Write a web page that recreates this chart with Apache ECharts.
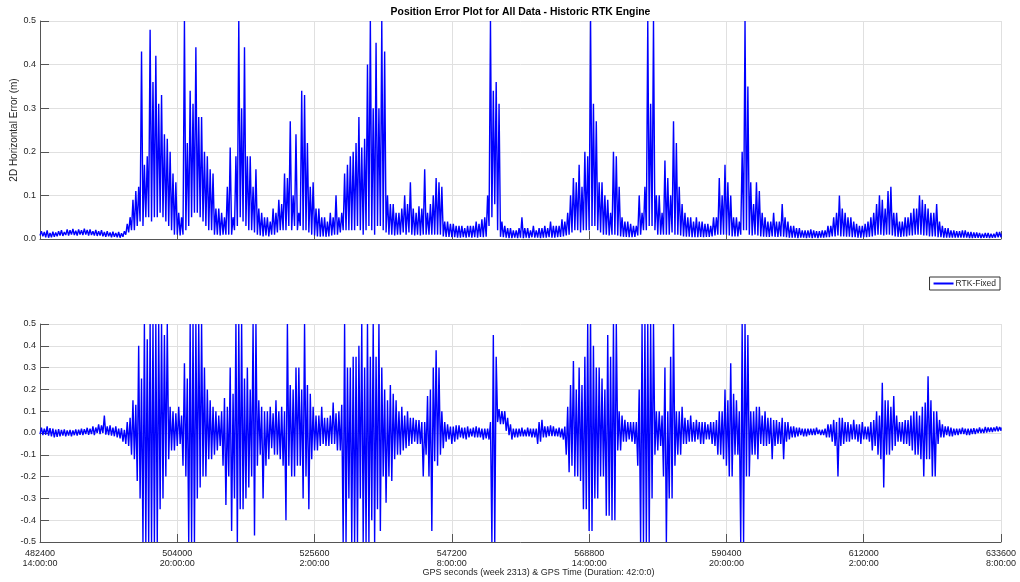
<!DOCTYPE html>
<html>
<head>
<meta charset="utf-8">
<title>Position Error Plot</title>
<script src="https://cdn.jsdelivr.net/npm/echarts@6/dist/echarts.min.js"></script>
<style>
  html, body { margin: 0; padding: 0; background: #fff; }
  #chart { width: 1020px; height: 582px; }
</style>
</head>
<body>
<div id="chart"></div>
<script>
// GPS seconds of week 2313, 42 h of data
const X_MIN = 482400;
const X_MAX = 633600;
const X_TICK = 21600;

// 2D horizontal error (m): low / high of each time bin
const horizLo = [
  0.008,0.006,0.004,0.003,0.004,0.005,0.006,0.008,0.007,0.009,
  0.008,0.01,0.009,0.008,0.01,0.009,0.01,0.008,0.009,0.008,
  0.007,0.008,0.006,0.005,0.006,0.004,0.005,0.004,0.003,0.005,
  0.01,0.015,0.02,0.02,0.03,0.04,0.03,0.05,0.05,0.04,
  0.05,0.05,0.06,0.05,0.04,0.03,0.02,0.01,0.01,0.008,
  0.01,0.02,0.03,0.05,0.06,0.06,0.05,0.04,0.03,0.02,
  0.02,0.01,0.01,0.008,0.01,0.01,0.01,0.01,0.02,0.03,
  0.05,0.04,0.03,0.02,0.02,0.015,0.01,0.008,0.006,0.008,
  0.006,0.01,0.01,0.015,0.02,0.02,0.02,0.03,0.02,0.03,
  0.02,0.03,0.02,0.02,0.015,0.01,0.008,0.006,0.005,0.006,
  0.005,0.006,0.008,0.01,0.01,0.015,0.02,0.02,0.02,0.02,
  0.02,0.03,0.02,0.01,0.02,0.03,0.02,0.01,0.03,0.03,
  0.02,0.015,0.01,0.01,0.008,0.01,0.01,0.015,0.01,0.015,
  0.01,0.008,0.01,0.008,0.01,0.01,0.01,0.01,0.01,0.01,
  0.01,0.006,0.005,0.005,0.004,0.004,0.003,0.003,0.004,0.003,
  0.004,0.003,0.004,0.003,0.005,0.004,0.005,0.03,0.05,0.08,
  0.02,0.005,0.004,0.003,0.002,0.002,0.003,0.002,0.003,0.002,
  0.003,0.002,0.004,0.003,0.003,0.002,0.003,0.003,0.004,0.003,
  0.003,0.004,0.005,0.006,0.008,0.01,0.015,0.02,0.02,0.015,
  0.02,0.02,0.02,0.03,0.03,0.02,0.015,0.01,0.01,0.008,
  0.01,0.01,0.008,0.006,0.005,0.005,0.004,0.004,0.005,0.008,
  0.01,0.02,0.02,0.03,0.03,0.02,0.01,0.01,0.01,0.01,
  0.01,0.015,0.01,0.01,0.008,0.006,0.005,0.005,0.004,0.004,
  0.004,0.005,0.004,0.005,0.005,0.006,0.008,0.01,0.01,0.01,
  0.01,0.008,0.006,0.006,0.006,0.01,0.02,0.02,0.01,0.008,
  0.01,0.008,0.006,0.005,0.005,0.005,0.006,0.005,0.005,0.006,
  0.005,0.004,0.003,0.003,0.003,0.002,0.003,0.003,0.002,0.003,
  0.002,0.003,0.002,0.003,0.003,0.004,0.004,0.006,0.006,0.008,
  0.006,0.006,0.005,0.005,0.004,0.004,0.003,0.003,0.004,0.004,
  0.005,0.006,0.008,0.01,0.01,0.008,0.01,0.01,0.008,0.006,
  0.005,0.005,0.006,0.006,0.008,0.008,0.01,0.01,0.01,0.008,
  0.008,0.006,0.006,0.006,0.004,0.004,0.003,0.003,0.003,0.003,
  0.003,0.003,0.003,0.003,0.003,0.002,0.002,0.003,0.003,0.002,
  0.003,0.003,0.002,0.003,0.003,0.004,0.004
];
const horizHi = [
  0.018,0.016,0.02,0.014,0.017,0.015,0.018,0.02,0.016,0.022,
  0.02,0.023,0.019,0.022,0.02,0.024,0.021,0.022,0.018,0.021,
  0.018,0.02,0.016,0.018,0.015,0.017,0.014,0.016,0.013,0.018,
  0.035,0.05,0.09,0.11,0.12,0.43,0.17,0.19,0.48,0.36,
  0.42,0.31,0.33,0.24,0.23,0.2,0.15,0.13,0.06,0.05,
  0.5,0.22,0.34,0.31,0.44,0.28,0.28,0.2,0.19,0.16,
  0.15,0.07,0.07,0.06,0.05,0.12,0.21,0.05,0.19,0.5,
  0.3,0.44,0.19,0.19,0.12,0.16,0.07,0.06,0.05,0.05,
  0.04,0.07,0.06,0.09,0.08,0.15,0.14,0.27,0.1,0.24,
  0.06,0.34,0.33,0.22,0.12,0.13,0.07,0.07,0.05,0.05,
  0.04,0.06,0.05,0.1,0.05,0.06,0.15,0.17,0.19,0.2,
  0.22,0.28,0.21,0.23,0.4,0.5,0.3,0.45,0.3,0.5,
  0.43,0.1,0.08,0.08,0.06,0.06,0.07,0.1,0.08,0.13,
  0.07,0.06,0.075,0.07,0.16,0.06,0.08,0.1,0.14,0.13,
  0.12,0.04,0.04,0.035,0.035,0.03,0.03,0.03,0.025,0.03,
  0.03,0.03,0.04,0.035,0.045,0.05,0.1,0.5,0.34,0.36,
  0.31,0.04,0.03,0.025,0.025,0.02,0.02,0.025,0.05,0.025,
  0.025,0.02,0.03,0.02,0.025,0.025,0.03,0.025,0.04,0.03,
  0.03,0.03,0.045,0.04,0.06,0.1,0.14,0.13,0.17,0.12,
  0.2,0.19,0.5,0.31,0.27,0.13,0.13,0.1,0.09,0.06,
  0.2,0.19,0.12,0.05,0.04,0.04,0.035,0.03,0.03,0.1,
  0.06,0.12,0.5,0.31,0.5,0.1,0.1,0.06,0.18,0.14,
  0.1,0.27,0.22,0.12,0.08,0.06,0.05,0.05,0.04,0.05,
  0.04,0.04,0.035,0.035,0.03,0.05,0.05,0.14,0.1,0.17,
  0.13,0.1,0.05,0.05,0.04,0.2,0.5,0.35,0.13,0.08,
  0.13,0.11,0.06,0.05,0.04,0.04,0.06,0.04,0.04,0.08,
  0.05,0.04,0.03,0.03,0.025,0.025,0.02,0.02,0.02,0.022,
  0.02,0.018,0.018,0.02,0.02,0.03,0.03,0.05,0.06,0.1,
  0.07,0.06,0.05,0.05,0.04,0.035,0.03,0.03,0.035,0.04,
  0.05,0.06,0.08,0.1,0.09,0.07,0.11,0.12,0.06,0.06,
  0.04,0.04,0.05,0.05,0.06,0.07,0.07,0.1,0.09,0.08,
  0.07,0.06,0.06,0.08,0.04,0.03,0.025,0.025,0.02,0.02,
  0.018,0.018,0.02,0.02,0.016,0.016,0.015,0.015,0.014,0.012,
  0.014,0.014,0.012,0.012,0.016,0.016,0.012
];

// signed error (m) for the lower plot: low / high of each time bin
const signedLo = [
  -0.005,-0.01,-0.008,-0.012,-0.015,-0.02,-0.018,-0.015,-0.012,-0.015,
  -0.012,-0.015,-0.01,-0.012,-0.008,-0.01,-0.005,-0.008,-0.005,-0.01,
  0,-0.005,0,-0.008,-0.01,-0.012,-0.015,-0.02,-0.025,-0.04,
  -0.05,-0.06,-0.1,-0.12,-0.22,-0.3,-0.5,-0.5,-0.5,-0.5,
  -0.5,-0.5,-0.35,-0.3,-0.2,-0.12,-0.08,-0.08,-0.06,-0.05,
  -0.15,-0.2,-0.5,-0.5,-0.5,-0.3,-0.25,-0.2,-0.2,-0.12,
  -0.12,-0.1,-0.08,-0.06,-0.15,-0.33,-0.2,-0.45,-0.3,-0.5,
  -0.35,-0.35,-0.3,-0.25,-0.2,-0.47,-0.15,-0.1,-0.3,-0.15,
  -0.12,-0.07,-0.1,-0.1,-0.12,-0.15,-0.4,-0.15,-0.2,-0.2,
  -0.15,-0.15,-0.3,-0.2,-0.35,-0.12,-0.08,-0.08,-0.06,-0.05,
  -0.06,-0.06,-0.05,-0.05,-0.08,-0.08,-0.5,-0.5,-0.3,-0.5,
  -0.5,-0.5,-0.3,-0.5,-0.5,-0.5,-0.4,-0.5,-0.35,-0.45,
  -0.2,-0.32,-0.2,-0.22,-0.12,-0.1,-0.1,-0.08,-0.07,-0.06,
  -0.05,-0.04,-0.05,-0.05,-0.2,-0.1,-0.2,-0.45,-0.13,-0.15,
  -0.1,-0.07,-0.04,-0.03,-0.05,-0.04,-0.03,-0.02,-0.025,-0.03,
  -0.02,-0.015,-0.02,-0.02,-0.02,-0.03,-0.025,-0.03,-0.5,-0.5,
  0.05,0.04,0.04,0.01,-0.01,-0.03,-0.02,-0.02,-0.015,-0.015,
  -0.015,-0.015,-0.02,-0.02,-0.05,-0.04,-0.02,-0.02,-0.015,-0.015,
  -0.015,-0.015,-0.02,-0.03,-0.1,-0.18,-0.15,-0.2,-0.2,-0.22,
  -0.35,-0.35,-0.45,-0.45,-0.3,-0.3,-0.2,-0.2,-0.38,-0.38,
  -0.4,-0.4,-0.08,-0.08,-0.04,-0.04,-0.03,-0.04,-0.05,-0.15,
  -0.5,-0.5,-0.5,-0.5,-0.3,-0.1,-0.08,-0.06,-0.2,-0.5,
  -0.3,-0.3,-0.15,-0.1,-0.1,-0.05,-0.05,-0.04,-0.04,-0.04,
  -0.03,-0.05,-0.05,-0.03,-0.03,-0.05,-0.06,-0.1,-0.1,-0.12,
  -0.15,-0.2,-0.2,-0.1,-0.1,-0.5,-0.5,-0.2,-0.2,-0.1,
  -0.1,-0.12,-0.05,-0.06,-0.06,-0.05,-0.12,-0.06,-0.05,-0.05,
  -0.12,-0.04,-0.03,-0.02,-0.02,-0.015,-0.01,-0.015,-0.015,-0.01,
  -0.01,-0.01,-0.005,-0.01,-0.01,-0.02,-0.02,-0.04,-0.06,-0.2,
  -0.06,-0.05,-0.04,-0.04,-0.03,-0.03,-0.04,-0.05,-0.03,-0.03,
  -0.04,-0.08,-0.06,-0.1,-0.12,-0.25,-0.1,-0.1,-0.08,-0.06,
  -0.04,-0.04,-0.05,-0.05,-0.06,-0.08,-0.1,-0.1,-0.12,-0.2,
  -0.12,-0.12,-0.2,-0.2,-0.05,-0.02,-0.02,-0.01,-0.015,-0.015,
  -0.01,-0.01,-0.005,-0.005,-0.01,-0.01,-0.005,-0.005,0,0,
  0,0.002,0.005,0.005,0.008,0.008,0.01
];
const signedHi = [
  0.025,0.02,0.03,0.022,0.02,0.015,0.018,0.014,0.016,0.012,
  0.014,0.012,0.016,0.015,0.02,0.018,0.024,0.02,0.03,0.025,
  0.04,0.035,0.08,0.03,0.035,0.025,0.03,0.02,0.022,0.015,
  0.05,0.07,0.15,0.13,0.4,0.25,0.5,0.43,0.5,0.5,
  0.5,0.5,0.5,0.45,0.5,0.12,0.1,0.09,0.12,0.08,
  0.32,0.25,0.5,0.5,0.5,0.5,0.5,0.3,0.2,0.15,
  0.12,0.1,0.08,0.1,0.16,0.12,0.3,0.18,0.5,0.5,
  0.5,0.25,0.3,0.2,0.5,0.5,0.15,0.12,0.1,0.1,
  0.12,0.09,0.15,0.1,0.12,0.1,0.5,0.22,0.2,0.3,
  0.3,0.2,0.5,0.22,0.18,0.12,0.08,0.08,0.12,0.07,
  0.07,0.08,0.14,0.09,0.1,0.13,0.5,0.3,0.3,0.35,
  0.35,0.4,0.5,0.3,0.5,0.35,0.5,0.35,0.5,0.3,
  0.2,0.15,0.22,0.18,0.15,0.1,0.12,0.08,0.1,0.07,
  0.07,0.06,0.06,0.05,0.05,0.17,0.2,0.3,0.38,0.3,
  0.1,0.05,0.04,0.03,0.03,0.035,0.035,0.025,0.025,0.03,
  0.02,0.025,0.03,0.025,0.02,0.02,0.02,0.05,0.45,0.35,
  0.11,0.1,0.1,0.07,0.04,0.02,0.02,0.02,0.025,0.015,
  0.025,0.02,0.02,0.02,0.05,0.06,0.03,0.03,0.035,0.03,
  0.02,0.025,0.02,0.03,0.12,0.22,0.33,0.2,0.3,0.22,
  0.35,0.5,0.5,0.4,0.3,0.3,0.25,0.2,0.45,0.35,
  0.5,0.5,0.1,0.08,0.06,0.05,0.05,0.05,0.05,0.2,
  0.5,0.5,0.5,0.5,0.5,0.1,0.1,0.08,0.3,0.1,
  0.35,0.5,0.1,0.1,0.12,0.07,0.06,0.08,0.05,0.06,
  0.05,0.05,0.05,0.04,0.05,0.05,0.06,0.1,0.1,0.2,
  0.15,0.32,0.18,0.15,0.1,0.5,0.5,0.45,0.1,0.1,
  0.12,0.12,0.08,0.1,0.07,0.07,0.06,0.06,0.05,0.07,
  0.05,0.05,0.03,0.03,0.025,0.025,0.02,0.02,0.02,0.02,
  0.02,0.025,0.015,0.015,0.02,0.04,0.04,0.06,0.05,0.07,
  0.07,0.05,0.05,0.04,0.06,0.04,0.04,0.05,0.03,0.03,
  0.05,0.06,0.1,0.08,0.23,0.15,0.15,0.12,0.17,0.08,
  0.05,0.05,0.06,0.06,0.08,0.1,0.1,0.08,0.12,0.14,
  0.26,0.15,0.1,0.1,0.06,0.04,0.03,0.03,0.025,0.02,
  0.02,0.02,0.025,0.02,0.02,0.02,0.022,0.02,0.025,0.02,
  0.028,0.025,0.025,0.025,0.03,0.028,0.025
];

const FONT = '"Liberation Sans", Arial, sans-serif';
const AXIS_COLOR = '#555';
const TEXT_COLOR = '#262626';
const GRID_COLOR = '#e0e0e0';

// bins are evenly spaced over the run; each bin gives its low then its high
function binned(lo, hi) {
  const step = (X_MAX - X_MIN) / (lo.length - 1);
  const out = [];
  for (let i = 0; i < lo.length; i++) {
    out.push([X_MIN + i * step, lo[i]]);
    if (i < lo.length - 1) out.push([X_MIN + (i + 0.5) * step, hi[i]]);
    else out.push([X_MAX, hi[i]]);
  }
  return out;
}

function gpsLabel(v) {
  const h = Math.floor(v / 3600) % 24;
  return v + '\n' + h + ':00:00';
}

function xAxisCfg(idx, showLabels) {
  return {
    gridIndex: idx,
    type: 'value',
    min: X_MIN,
    max: X_MAX,
    interval: X_TICK,
    axisLine: { onZero: false, lineStyle: { color: AXIS_COLOR, width: 1 } },
    axisTick: { show: true, inside: true, length: 8, lineStyle: { color: AXIS_COLOR } },
    axisLabel: {
      show: showLabels,
      showMinLabel: true,
      showMaxLabel: true,
      fontFamily: FONT,
      fontSize: 9,
      lineHeight: 10.5,
      color: TEXT_COLOR,
      margin: 6,
      formatter: gpsLabel
    },
    splitLine: { show: true, lineStyle: { color: GRID_COLOR, width: 1 } }
  };
}

function yAxisCfg(idx, min) {
  return {
    gridIndex: idx,
    type: 'value',
    min: min,
    max: 0.5,
    interval: 0.1,
    axisLine: { show: true, onZero: false, lineStyle: { color: AXIS_COLOR, width: 1 } },
    axisTick: { show: true, inside: true, length: 9, lineStyle: { color: AXIS_COLOR } },
    axisLabel: {
      fontFamily: FONT,
      fontSize: 9,
      color: TEXT_COLOR,
      margin: 4,
      formatter: v => v.toFixed(1)
    },
    splitLine: { show: true, lineStyle: { color: GRID_COLOR, width: 1 } }
  };
}

const myChart = echarts.init(document.getElementById('chart'), null, { renderer: 'canvas' });

const lineSeries = (idx, data) => ({
  name: 'RTK-Fixed',
  type: 'line',
  xAxisIndex: idx,
  yAxisIndex: idx,
  data: data,
  symbol: 'none',
  sampling: null,
  animation: false,
  clip: true,
  lineStyle: { color: '#0000ff', width: 1.4 },
  itemStyle: { color: '#0000ff' }
});

const option = {
  backgroundColor: '#fff',
  animation: false,
  grid: [
    { left: 40, right: 19, top: 21, height: 218, containLabel: false, outerBoundsMode: 'none' },
    { left: 40, right: 19, top: 324, height: 218, containLabel: false, outerBoundsMode: 'none' }
  ],
  graphic: [
    {
      type: 'text', x: 520.5, y: 12,
      style: {
        text: 'Position Error Plot for All Data - Historic RTK Engine',
        font: 'bold 10.4px ' + FONT, fill: '#000',
        align: 'center', verticalAlign: 'middle'
      }
    },
    {
      // y label of the upper plot
      type: 'text', x: 14, y: 130, rotation: Math.PI / 2,
      style: {
        text: '2D Horizontal Error (m)',
        font: '10px ' + FONT, fill: TEXT_COLOR,
        align: 'center', verticalAlign: 'middle'
      }
    },
    {
      type: 'text', x: 538.5, y: 573,
      style: {
        text: 'GPS seconds (week 2313) & GPS Time (Duration: 42:0:0)',
        font: '9px ' + FONT, fill: TEXT_COLOR,
        align: 'center', verticalAlign: 'middle'
      }
    }
  ],
  legend: {
    data: ['RTK-Fixed'],
    right: 20,
    top: 277,
    orient: 'vertical',
    itemWidth: 20,
    itemHeight: 8,
    padding: [2, 4, 2, 3],
    itemGap: 2,
    borderColor: '#333',
    borderWidth: 1,
    borderRadius: 0,
    backgroundColor: '#fff',
    itemStyle: { opacity: 0 },
    textStyle: { fontFamily: FONT, fontSize: 8.5, color: TEXT_COLOR, padding: [0, 0, 0, -3] }
  },
  xAxis: [xAxisCfg(0, false), xAxisCfg(1, true)],
  yAxis: [yAxisCfg(0, 0), yAxisCfg(1, -0.5)],
  series: [
    lineSeries(0, binned(horizLo, horizHi)),
    lineSeries(1, binned(signedLo, signedHi))
  ]
};

option && myChart.setOption(option);
</script>
</body>
</html>
